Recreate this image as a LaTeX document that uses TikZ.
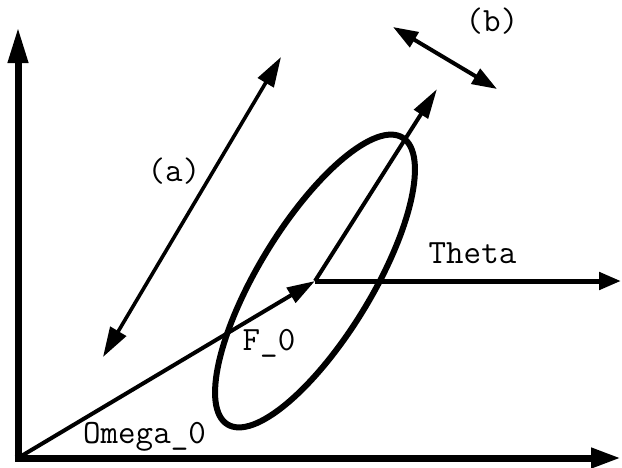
\documentclass[tikz,border=0pt]{standalone}
\usetikzlibrary{arrows.meta}
\begin{document}
\begin{tikzpicture}[x=1pt,y=-1pt,
  lbl/.style={font=\fontsize{34}{34}\selectfont\ttfamily, inner sep=0pt},
  axis/.style={line width=7pt, -{Triangle[length=30pt,width=19pt]}},
  vec/.style={line width=4pt, -{Triangle[length=28pt,width=17pt]}},
  dbl/.style={line width=3.6pt, {Triangle[length=30pt,width=18pt]}-{Triangle[length=30pt,width=18pt]}}]
\useasboundingbox (0,0) rectangle (622,467);
\coordinate (O) at (18,458);
\coordinate (Ytop) at (18,27);
\coordinate (Xend) at (621,458);
\coordinate (C) at (315,281);
\coordinate (Tend) at (621,281);
\coordinate (Up) at (437,89);
\coordinate (a1) at (103,357);
\coordinate (a2) at (281,57);
\coordinate (b1) at (393,27);
\coordinate (b2) at (497,89);
% axes
\draw[line width=7pt, -{Triangle[length=36pt,width=19pt]}] (18,461) -- (Ytop);
\draw[axis] (14.5,458) -- (Xend);
% ellipse
\draw[line width=6pt] (C) ellipse[x radius=168, y radius=56.5, rotate=58.6];
% vectors
\draw[line width=5pt, -{Triangle[length=22pt,width=17pt]}] (C) -- (Tend);
\draw[vec] (O) -- (C);
\draw[vec, -{Triangle[length=30pt,width=16pt]}] (C) -- (Up);
\draw[dbl] (a1) -- (a2);
\draw[dbl, line width=4pt, {Triangle[length=25pt,width=17pt]}-{Triangle[length=25pt,width=17pt]}] (b1) -- (b2);
% labels
\node[lbl, anchor=base] (theta) at (472.5,263) {Theta};
\node[lbl, anchor=base] (f0) at (269,350) {F\_0};
\node[lbl, anchor=base] (omega) at (144.5,443) {Omega\_0};
\node[lbl] (la) at (174,171) {(a)};
\node[lbl] (lb) at (492,21) {(b)};
\end{tikzpicture}
\end{document}
